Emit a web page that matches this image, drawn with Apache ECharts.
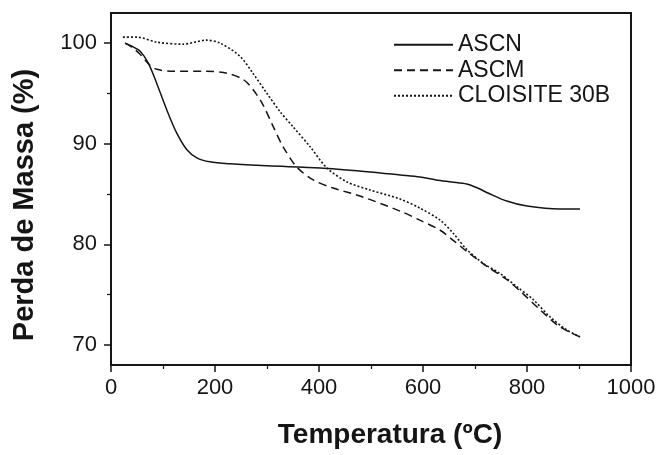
<!DOCTYPE html>
<html>
<head>
<meta charset="utf-8">
<script src="https://cdn.jsdelivr.net/npm/echarts@6/dist/echarts.min.js"></script>
<style>
html,body{margin:0;padding:0;background:#fff;}
#chart{width:660px;height:455px;}
</style>
</head>
<body>
<div id="chart"></div>
<script>
// ---- data ----
var seriesNames = ['ASCN', 'ASCM', 'CLOISITE 30B'];

var tempASCN = [27, 40, 56, 72, 88, 107, 126, 146, 165, 190, 229, 300, 402, 498, 556, 594, 625, 655, 684, 705, 725, 761, 800, 863, 902];
var massASCN = [100.0, 99.7, 99.2, 98.0, 96.0, 93.4, 91.1, 89.4, 88.6, 88.2, 88.0, 87.8, 87.6, 87.2, 86.9, 86.7, 86.4, 86.2, 86.0, 85.6, 85.1, 84.3, 83.8, 83.5, 83.5];

var tempASCM = [27, 40, 56, 75, 88, 119, 184, 223, 254, 273, 292, 312, 331, 357, 389, 427, 479, 556, 594, 633, 658, 684, 723, 761, 792, 825, 863, 902];
var massASCM = [100.0, 99.6, 98.9, 97.8, 97.4, 97.2, 97.2, 97.0, 96.4, 95.4, 93.9, 91.7, 89.7, 87.7, 86.4, 85.6, 84.8, 83.3, 82.4, 81.4, 80.4, 79.3, 77.8, 76.5, 75.1, 73.5, 71.8, 70.8];

var tempCLO = [23, 50, 88, 138, 184, 210, 248, 273, 300, 325, 350, 383, 415, 454, 498, 556, 594, 633, 658, 684, 716, 748, 780, 812, 844, 876, 902];
var massCLO = [100.6, 100.6, 100.1, 99.9, 100.3, 100.0, 98.7, 97.0, 95.0, 93.2, 91.7, 89.7, 87.6, 86.2, 85.4, 84.5, 83.6, 82.4, 81.1, 79.5, 78.1, 77.1, 75.8, 74.5, 72.8, 71.5, 70.8];

var xTicks = [0, 200, 400, 600, 800, 1000];
var xMinorTicks = [100, 300, 500, 700, 900];
var yTicks = [70, 80, 90, 100];
var yMinorTicks = [75, 85, 95];

function pairs(xs, ys) {
  var out = [];
  for (var i = 0; i < xs.length; i++) out.push([xs[i], ys[i]]);
  return out;
}

var ink = '#151515';
var font = 'Liberation Sans, Arial, sans-serif';
var chart = echarts.init(document.getElementById('chart'), null, {renderer: 'canvas'});

var lineStyles = [
  {type: 'solid', width: 1.5, color: ink},
  {type: [8, 5], width: 1.5, color: ink},
  {type: [2, 2], width: 1.6, color: ink}
];
var seriesData = [pairs(tempASCN, massASCN), pairs(tempASCM, massASCM), pairs(tempCLO, massCLO)];

var option = {
  backgroundColor: '#fff',
  animation: false,
  textStyle: {fontFamily: font},
  grid: {left: 111, top: 13, width: 520, height: 352, show: true, borderColor: ink, borderWidth: 2, backgroundColor: 'transparent'},
  legend: {
    orient: 'vertical',
    left: 388,
    top: 27,
    itemWidth: 59,
    itemHeight: 14,
    itemGap: 0,
    selectedMode: false,
    itemStyle: {opacity: 0},
    textStyle: {fontSize: 23, color: ink, lineHeight: 25.5, fontFamily: font},
    data: seriesNames
  },
  xAxis: [{
    type: 'value',
    min: xTicks[0],
    max: xTicks[xTicks.length - 1],
    interval: 200,
    name: 'Temperatura (ºC)',
    nameLocation: 'middle',
    nameGap: 56,
    nameTextStyle: {fontSize: 28, fontWeight: 'bold', color: ink, padding: [0, 0, 0, 38]},
    axisLine: {lineStyle: {color: ink, width: 2}},
    axisTick: {show: true, length: 7, customValues: xTicks, lineStyle: {color: ink, width: 1.5}},
    axisLabel: {fontSize: 22, color: ink, margin: 12, customValues: xTicks, formatter: function (v) { return String(v); }},
    splitLine: {show: false}
  }, {
    type: 'value',
    min: xTicks[0],
    max: xTicks[xTicks.length - 1],
    position: 'bottom',
    axisLine: {show: true, lineStyle: {color: ink, width: 2}},
    axisTick: {show: true, length: 4, customValues: xMinorTicks, lineStyle: {color: ink, width: 1.2}},
    axisLabel: {show: false, customValues: xMinorTicks},
    splitLine: {show: false}
  }],
  yAxis: [{
    type: 'value',
    min: 68,
    max: 103,
    name: 'Perda de Massa (%)',
    nameLocation: 'middle',
    nameGap: 72,
    nameTextStyle: {fontSize: 29, fontWeight: 'bold', color: ink, padding: [0, 32, 0, 0]},
    axisLine: {show: true, lineStyle: {color: ink, width: 2}},
    axisTick: {show: true, length: 7, customValues: yTicks, lineStyle: {color: ink, width: 1.5}},
    axisLabel: {fontSize: 22, color: ink, margin: 14, customValues: yTicks},
    splitLine: {show: false}
  }, {
    type: 'value',
    min: 68,
    max: 103,
    position: 'left',
    axisLine: {show: true, lineStyle: {color: ink, width: 2}},
    axisTick: {show: true, length: 4, customValues: yMinorTicks, lineStyle: {color: ink, width: 1.2}},
    axisLabel: {show: false, customValues: yMinorTicks},
    splitLine: {show: false}
  }],
  series: seriesNames.map(function (n, i) {
    return {
      name: n,
      type: 'line',
      xAxisIndex: 0,
      yAxisIndex: 0,
      data: seriesData[i],
      smooth: 0.3,
      symbol: 'none',
      lineStyle: lineStyles[i],
      itemStyle: {color: ink}
    };
  })
};
chart.setOption(option);
</script>
</body>
</html>
